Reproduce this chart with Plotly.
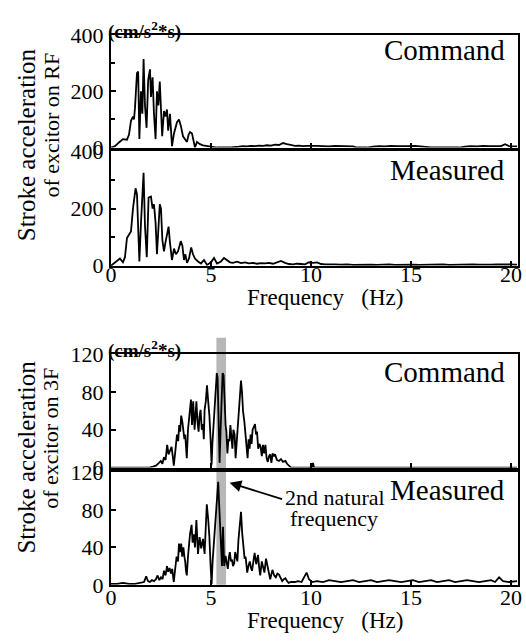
import plotly.graph_objects as go

# ---- Stroke acceleration spectra of the excitors (cm/s^2*s) ----
# RF excitor, command signal
rf_cmd_freq = [0.0, 0.2, 0.4, 0.6, 0.8, 0.9, 1.0, 1.1, 1.15, 1.2, 1.3, 1.36, 1.42, 1.5, 1.57, 1.63,
               1.7, 1.78, 1.86, 1.95, 2.0, 2.08, 2.15, 2.23, 2.3, 2.37, 2.44, 2.5, 2.56, 2.65, 2.72,
               2.8, 2.86, 2.95, 3.05, 3.15, 3.22, 3.3, 3.4, 3.5, 3.6, 3.7, 3.8, 3.88, 3.95, 4.05, 4.12,
               4.2, 4.3, 4.45, 4.6, 4.8, 5.0, 5.3, 5.6, 6.0, 6.4, 6.6, 6.8, 7.0, 7.2, 7.4, 7.6, 7.8,
               8.0, 8.2, 8.4, 8.6, 8.8, 9.0, 9.2, 9.4, 9.6, 9.8, 10.0, 10.3, 10.6, 10.9, 11.2, 11.5,
               11.8, 12.1, 12.3, 12.5, 12.8, 13.1, 13.4, 13.7, 14.0, 14.3, 14.6, 14.9, 15.2, 15.5,
               15.8, 16.0, 16.5, 17.0, 17.4, 17.7, 18.0, 18.3, 18.6, 18.9, 19.2, 19.5, 19.7, 19.9, 20.3]
rf_cmd_val = [0, 5, 18, 30, 28, 45, 95, 110, 100, 140, 265, 270, 30, 200, 120, 315,
              150, 70, 240, 278, 180, 250, 120, 30, 200, 150, 235, 130, 40, 130, 110,
              135, 60, 120, 5, 50, 70, 90, 100, 75, 40, 30, 20, 45, 55, 50, 25,
              0, 20, 12, 8, 5, 2, 0, 0, 0, 3, 5, 4, 6, 5, 7, 6, 8,
              7, 10, 9, 16, 12, 8, 6, 7, 5, 6, 5, 6, 5, 4, 6, 5,
              3, 4, 0, 0, 0, 3, 5, 4, 6, 5, 4, 5, 6, 4,
              3, 0, 0, 0, 0, 3, 5, 4, 6, 5, 4, 5, 12, 5, 4]

# RF excitor, measured signal
rf_meas_freq = [0.0, 0.15, 0.3, 0.45, 0.6, 0.7, 0.8, 0.9, 1.0, 1.1, 1.23, 1.3, 1.42, 1.5, 1.63,
                1.7, 1.79, 1.88, 2.0, 2.08, 2.15, 2.23, 2.3, 2.44, 2.5, 2.57, 2.65, 2.72, 2.8,
                2.88, 2.95, 3.05, 3.15, 3.25, 3.35, 3.49, 3.57, 3.65, 3.72, 3.8, 3.9, 4.01, 4.1,
                4.2, 4.35, 4.5, 4.65, 4.8, 5.0, 5.15, 5.3, 5.5, 5.65, 5.8, 5.95, 6.1, 6.3, 6.5,
                6.7, 6.9, 7.1, 7.3, 7.5, 7.7, 7.9, 8.1, 8.3, 8.5, 8.7, 8.9, 9.1, 9.3, 9.5, 9.7,
                9.9, 10.1, 10.3, 10.5, 10.7, 10.9, 11.2, 11.5, 11.8, 12.1, 12.4, 12.7, 13.0, 13.3,
                13.6, 13.9, 14.2, 14.5, 14.8, 15.1, 15.4, 15.7, 16.0, 16.3, 16.6, 16.9, 17.2, 17.5,
                17.8, 18.1, 18.4, 18.7, 19.0, 19.3, 19.6, 19.9, 20.3]
rf_meas_val = [0, 8, 19, 25, 12, 30, 97, 109, 120, 200, 271, 250, 15, 150, 325,
               140, 30, 238, 242, 200, 215, 150, 40, 215, 200, 90, 50, 80, 110,
               137, 80, 20, 60, 40, 50, 86, 70, 20, 40, 10, 25, 64, 40,
               25, 15, 8, 20, 3, 12, 27, 8, 15, 27, 20, 12, 10, 14, 9,
               12, 8, 10, 7, 9, 8, 10, 7, 12, 17, 10, 6, 5, 7, 6, 5,
               12, 10, 12, 6, 5, 4, 5, 4, 5, 3, 4, 5, 4, 3,
               4, 5, 3, 4, 5, 4, 3, 4, 3, 4, 5, 3, 4, 3,
               4, 5, 4, 3, 4, 5, 4, 5, 4]

# 3F excitor, command signal
f3_cmd_freq = [0.0, 1.5, 1.92, 2.1, 2.25, 2.4, 2.49, 2.57, 2.65, 2.73, 2.81, 2.88, 2.95, 3.03, 3.1,
               3.14, 3.22, 3.3, 3.36, 3.41, 3.46, 3.51, 3.57, 3.62, 3.67, 3.71, 3.76, 3.79, 3.85,
               3.92, 4.0, 4.05, 4.11, 4.18, 4.22, 4.27, 4.32, 4.38, 4.43, 4.48, 4.54, 4.6, 4.64,
               4.68, 4.74, 4.8, 4.86, 4.92, 4.98, 5.03, 5.07, 5.11, 5.15, 5.19, 5.24, 5.29, 5.33,
               5.38, 5.43, 5.48, 5.53, 5.58, 5.63, 5.68, 5.73, 5.77, 5.82, 5.87, 5.92, 5.97, 6.02,
               6.07, 6.12, 6.18, 6.23, 6.28, 6.34, 6.38, 6.42, 6.46, 6.5, 6.55, 6.6, 6.67, 6.72,
               6.78, 6.83, 6.88, 6.93, 6.98, 7.03, 7.08, 7.15, 7.2, 7.25, 7.3, 7.36, 7.42, 7.48,
               7.54, 7.6, 7.66, 7.72, 7.78, 7.84, 7.9, 7.96, 8.02, 8.08, 8.14, 8.2, 8.3, 8.4, 8.5,
               8.6, 8.72, 8.8, 8.88, 9.0, 9.9, 10.05, 10.1, 10.15, 20.3]
f3_cmd_val = [0, 0, 0, 1, 2, 5, 7, 4, 11, 8, 24, 14, 18, 22, 10,
              2, 18, 35, 28, 45, 38, 55, 48, 41, 30, 35, 20, 10, 40,
              55, 72, 45, 70, 40, 55, 70, 50, 38, 55, 61, 40, 46, 30,
              61, 70, 87, 70, 55, 30, 3, 25, 38, 50, 61, 80, 100, 95,
              60, 5, 40, 80, 100, 98, 60, 45, 38, 15, 30, 28, 45, 35,
              20, 40, 35, 10, 25, 38, 60, 72, 85, 92, 80, 60, 48, 35,
              25, 10, 30, 20, 35, 25, 40, 44, 46, 35, 38, 20, 25, 22,
              12, 24, 15, 24, 10, 6, 12, 14, 5, 15, 12, 14, 8, 7, 9,
              6, 7, 4, 2, 0, 0, 0, 5, 0, 0]

# 3F excitor, measured signal
f3_meas_freq = [0.0, 0.3, 0.6, 0.9, 1.2, 1.5, 1.65, 1.76, 1.85, 1.95, 2.05, 2.15, 2.25, 2.33, 2.42,
                2.5, 2.58, 2.65, 2.73, 2.8, 2.86, 2.93, 3.0, 3.06, 3.1, 3.14, 3.2, 3.28, 3.35, 3.4,
                3.46, 3.51, 3.56, 3.62, 3.67, 3.71, 3.75, 3.79, 3.85, 3.9, 3.95, 4.0, 4.03, 4.08,
                4.14, 4.2, 4.27, 4.35, 4.43, 4.51, 4.6, 4.68, 4.74, 4.79, 4.86, 4.92, 4.98, 5.03,
                5.08, 5.13, 5.18, 5.24, 5.3, 5.36, 5.42, 5.49, 5.55, 5.6, 5.66, 5.73, 5.78, 5.84,
                5.9, 5.94, 6.0, 6.05, 6.1, 6.16, 6.21, 6.26, 6.32, 6.37, 6.44, 6.5, 6.56, 6.62,
                6.68, 6.73, 6.81, 6.87, 6.94, 7.0, 7.05, 7.12, 7.18, 7.26, 7.35, 7.4, 7.46, 7.54,
                7.6, 7.67, 7.75, 7.8, 7.86, 7.96, 8.07, 8.16, 8.24, 8.32, 8.4, 8.48, 8.56, 8.64,
                8.72, 8.8, 8.88, 9.0, 9.2, 9.35, 9.53, 9.65, 9.78, 9.9, 10.05, 10.3, 10.6, 10.9,
                11.2, 11.5, 11.8, 12.1, 12.4, 12.7, 13.0, 13.3, 13.6, 13.9, 14.2, 14.5, 14.8, 15.1,
                15.4, 15.7, 16.0, 16.3, 16.6, 16.9, 17.2, 17.5, 17.8, 18.1, 18.4, 18.7, 19.0, 19.2,
                19.4, 19.6, 19.9, 20.3]
f3_meas_val = [1, 1, 2, 1, 1, 2, 3, 9, 4, 3, 5, 4, 6, 10, 5,
               8, 6, 15, 10, 20, 14, 18, 12, 17, 10, 3, 15, 30, 25, 44,
               35, 44, 30, 40, 30, 25, 15, 10, 30, 45, 54, 60, 64, 45,
               54, 40, 69, 33, 51, 39, 49, 33, 60, 86, 70, 51, 20, 1,
               25, 40, 55, 71, 95, 110, 80, 47, 20, 62, 20, 31, 22, 17,
               30, 35, 25, 27, 20, 23, 35, 30, 25, 47, 65, 78, 55, 37,
               28, 30, 13, 20, 25, 18, 15, 25, 34, 22, 32, 20, 10, 25,
               18, 13, 28, 22, 15, 6, 16, 10, 8, 12, 11, 7, 4, 6,
               7, 4, 2, 3, 3, 4, 3, 8, 13, 6, 3, 4, 3, 5,
               4, 3, 4, 5, 3, 4, 5, 3, 4, 5, 4, 3, 4, 5,
               3, 4, 5, 3, 4, 5, 3, 4, 5, 4, 3, 4, 5, 3,
               8, 4, 3, 4]

FREQ_TICKS = [0, 5, 10, 15, 20]
RF_TICKS = [0, 200, 400]
F3_TICKS = [0, 40, 80, 120]
BAND = (5.27, 5.75)          # 2nd natural frequency band (Hz)

W, H = 526, 643
SERIF = "Liberation Serif, Times New Roman, Times, serif"


def px(x):
    return x / W


def py(y):
    return 1 - y / H


fig = go.Figure()
series = [(rf_cmd_freq, rf_cmd_val), (rf_meas_freq, rf_meas_val),
          (f3_cmd_freq, f3_cmd_val), (f3_meas_freq, f3_meas_val)]
for i, (fx, fy) in enumerate(series, start=1):
    sfx = "" if i == 1 else str(i)
    fig.add_trace(go.Scatter(x=fx, y=fy, mode="lines", xaxis="x" + sfx, yaxis="y" + sfx,
                             line=dict(color="black", width=1.8), showlegend=False,
                             hoverinfo="skip"))

x_left, x_right = px(107), px(522)
panels = [  # (top px, bottom px, y range, y ticks, minor dtick, x label standoff or None)
    (24, 141, [0, 400], RF_TICKS, 100, None),
    (145, 264, [0, 400], RF_TICKS, 100, -12),
    (356, 474, [0, 120], F3_TICKS, None, None),
    (479, 596, [0, 120], F3_TICKS, None, -8),
]
font_tick = dict(family=SERIF, size=22, color="black")
layout = {}
for i, (top, bot, yr, yt, minor, xstand) in enumerate(panels, start=1):
    sfx = "" if i == 1 else str(i)
    xdict = dict(
        domain=[x_left, x_right], range=[0, 20.35], anchor="y" + sfx,
        tickvals=FREQ_TICKS, ticks="inside", ticklen=5, tickwidth=1.5, tickcolor="black",
        showticklabels=xstand is not None, tickfont=font_tick, showline=True,
        linecolor="black", linewidth=2, mirror=True, showgrid=False, zeroline=False,
        fixedrange=True)
    if xstand is not None:
        xdict["ticklabelstandoff"] = xstand
    layout["xaxis" + sfx] = xdict
    ydict = dict(
        domain=[py(bot), py(top)], range=yr, anchor="x" + sfx,
        tickvals=yt, ticks="inside", ticklen=5, tickwidth=1.5, tickcolor="black",
        tickfont=font_tick, showline=True, linecolor="black", linewidth=2, mirror=True,
        showgrid=False, zeroline=False, fixedrange=True, ticklabelstandoff=1)
    if minor:
        ydict["minor"] = dict(dtick=minor, ticks="inside", ticklen=4, tickcolor="black")
    layout["yaxis" + sfx] = ydict

ann = []
# panel captions
for text, y in [("Command", 40), ("Measured", 164), ("Command", 375), ("Measured", 497)]:
    ann.append(dict(text=text, x=px(511), y=py(y), xref="paper", yref="paper",
                    xanchor="right", yanchor="middle", showarrow=False,
                    font=dict(family=SERIF, size=29, color="black")))
# units
for y in [19, 351]:
    ann.append(dict(text="<b>(cm/s<sup>2</sup>*s)</b>", x=px(102), y=py(y), xref="paper",
                    yref="paper", xanchor="left", yanchor="middle", showarrow=False,
                    font=dict(family=SERIF, size=19, color="black")))
# frequency axis titles
for y in [297, 633]:
    ann.append(dict(text="Frequency\u00a0\u00a0\u00a0(Hz)", x=px(325), y=py(y), xref="paper",
                    yref="paper", xanchor="center", yanchor="middle", showarrow=False,
                    font=dict(family=SERIF, size=23, color="black")))
# vertical axis titles
for l1, l2, yc1, yc2 in [("Stroke acceleration", "of excitor on RF", 138, 118),
                         ("Stroke acceleration", "of excitor on 3F", 463, 444)]:
    ann.append(dict(text=l1, x=px(21), y=py(yc1), xref="paper", yref="paper", textangle=-90,
                    xanchor="center", yanchor="middle", showarrow=False,
                    font=dict(family=SERIF, size=25, color="black")))
    ann.append(dict(text=l2, x=px(46), y=py(yc2), xref="paper", yref="paper", textangle=-90,
                    xanchor="center", yanchor="middle", showarrow=False,
                    font=dict(family=SERIF, size=22, color="black")))
# natural frequency callout
ann.append(dict(text="2nd natural", x=px(335), y=py(505), xref="paper", yref="paper",
                xanchor="center", yanchor="middle", showarrow=False,
                font=dict(family=SERIF, size=22, color="black")))
ann.append(dict(text="frequency", x=px(334), y=py(527), xref="paper", yref="paper",
                xanchor="center", yanchor="middle", showarrow=False,
                font=dict(family=SERIF, size=22, color="black")))
ann.append(dict(text="", x=5.93, y=109, xref="x4", yref="y4", ax=54, ay=17,
                showarrow=True, arrowhead=2, arrowsize=1.3, arrowwidth=1.8,
                arrowcolor="black"))

shapes = [dict(type="rect", xref="x3", yref="paper", x0=BAND[0], x1=BAND[1],
               y0=py(596), y1=py(339), fillcolor="rgba(165,165,165,0.8)",
               line=dict(width=0), layer="below")]

fig.update_layout(width=W, height=H, margin=dict(l=0, r=0, t=0, b=0),
                  paper_bgcolor="white", plot_bgcolor="rgba(0,0,0,0)",
                  annotations=ann, shapes=shapes, **layout)
fig.write_html("out.html")
